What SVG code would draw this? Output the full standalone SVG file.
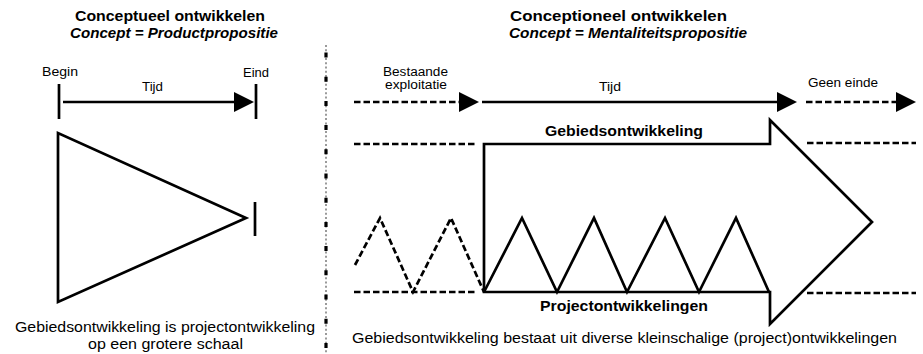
<svg xmlns="http://www.w3.org/2000/svg" width="923" height="354" viewBox="0 0 923 354">
<style>
text{font-family:"Liberation Sans",Arial,sans-serif;fill:#000}
.t{font-size:14px;font-weight:bold}
.ti{font-size:14px;font-weight:bold;font-style:italic}
.l{font-size:12px}
.b{font-size:15.5px}
.lb{font-size:15px;font-weight:bold}
.s{fill:none;stroke:#000;stroke-width:2.7}
.d{fill:none;stroke:#000;stroke-width:2.7;stroke-dasharray:6.5 3}
</style>
<defs>
<marker id="ah" markerUnits="userSpaceOnUse" markerWidth="21" markerHeight="22" refX="0" refY="11" orient="auto">
<path d="M0,1 L20,11 L0,21 Z" fill="#000"/>
</marker>
</defs>
<rect width="923" height="354" fill="#fff"/>

<g id="left-title">
<text class="t" x="75" y="21" textLength="190" lengthAdjust="spacingAndGlyphs">Conceptueel ontwikkelen</text>
<text class="ti" x="70" y="38" textLength="208" lengthAdjust="spacingAndGlyphs">Concept = Productpropositie</text>
</g>
<g id="left-begin">
<text class="l" x="42" y="76" textLength="36" lengthAdjust="spacingAndGlyphs">Begin</text>
<line class="s" x1="59" y1="84" x2="59" y2="119"/>
</g>
<g id="left-eind">
<text class="l" x="243" y="77" textLength="26" lengthAdjust="spacingAndGlyphs">Eind</text>
<line class="s" x1="256" y1="84" x2="256" y2="119"/>
</g>
<g id="left-tijd">
<text class="l" x="142" y="91" textLength="21" lengthAdjust="spacingAndGlyphs">Tijd</text>
</g>
<g id="left-triangle">
<polygon class="s" points="58,133 58,302 246,218"/>
<line class="s" x1="255" y1="202" x2="255" y2="236"/>
</g>
<g id="left-caption">
<text class="b" x="15" y="332" textLength="300" lengthAdjust="spacingAndGlyphs">Gebiedsontwikkeling is projectontwikkeling</text>
<text class="b" x="88" y="349" textLength="155" lengthAdjust="spacingAndGlyphs">op een grotere schaal</text>
</g>

<g id="separator">
<line x1="326" y1="45" x2="326" y2="354" stroke="#9a9a9a" stroke-width="2" stroke-dasharray="2 2.3"/>
<line x1="326" y1="52.5" x2="326" y2="354" stroke="#000" stroke-width="3.2" stroke-dasharray="5 19.2"/>
</g>

<g id="right-title">
<text class="t" x="510" y="21" textLength="217" lengthAdjust="spacingAndGlyphs">Conceptioneel ontwikkelen</text>
<text class="ti" x="509" y="38" textLength="238" lengthAdjust="spacingAndGlyphs">Concept = Mentaliteitspropositie</text>
</g>
<g id="bestaande">
<text class="l" x="383" y="76" textLength="65" lengthAdjust="spacingAndGlyphs">Bestaande</text>
<text class="l" x="385" y="89" textLength="62" lengthAdjust="spacingAndGlyphs">exploitatie</text>
</g>
<g id="right-tijd">
<text class="l" x="599" y="91" textLength="22" lengthAdjust="spacingAndGlyphs">Tijd</text>
</g>
<g id="geen-einde">
<text class="l" x="808" y="87" textLength="70" lengthAdjust="spacingAndGlyphs">Geen einde</text>
</g>

<g id="gebiedsontwikkeling">
<path class="s" d="M484,292 L484,144 L770,144 L770,120 L872,222 L770,324 L770,292 Z"/>
<text class="lb" x="545" y="136" textLength="158" lengthAdjust="spacingAndGlyphs">Gebiedsontwikkeling</text>
</g>
<g id="projectontwikkelingen">
<polyline class="s" points="484,292 522,218 557,292 594,218 627,292 665,218 699,292 736,218 769,292"/>
<text class="lb" x="540" y="311" textLength="168" lengthAdjust="spacingAndGlyphs">Projectontwikkelingen</text>
</g>
<g id="past-projects">
<polyline class="d" points="355,265 380,218 413,292 451,218 484,292"/>
</g>
<g id="bounds">
<line class="d" x1="354" y1="144" x2="476" y2="144"/>
<line class="d" x1="354" y1="292" x2="476" y2="292"/>
<line class="d" x1="807" y1="143" x2="916" y2="143"/>
<line class="d" x1="807" y1="293" x2="916" y2="293"/>
</g>
<g id="right-caption">
<text class="b" x="352" y="343" textLength="545" lengthAdjust="spacingAndGlyphs">Gebiedsontwikkeling bestaat uit diverse kleinschalige (project)ontwikkelingen</text>
</g>

<g id="connectors">
<line class="s" x1="63" y1="102" x2="234" y2="102" marker-end="url(#ah)"/>
<line class="d" x1="354" y1="102" x2="459" y2="102" marker-end="url(#ah)"/>
<line class="s" x1="482" y1="102" x2="777" y2="102" marker-end="url(#ah)"/>
<line class="d" x1="806" y1="102" x2="896" y2="102" marker-end="url(#ah)"/>
</g>
</svg>
